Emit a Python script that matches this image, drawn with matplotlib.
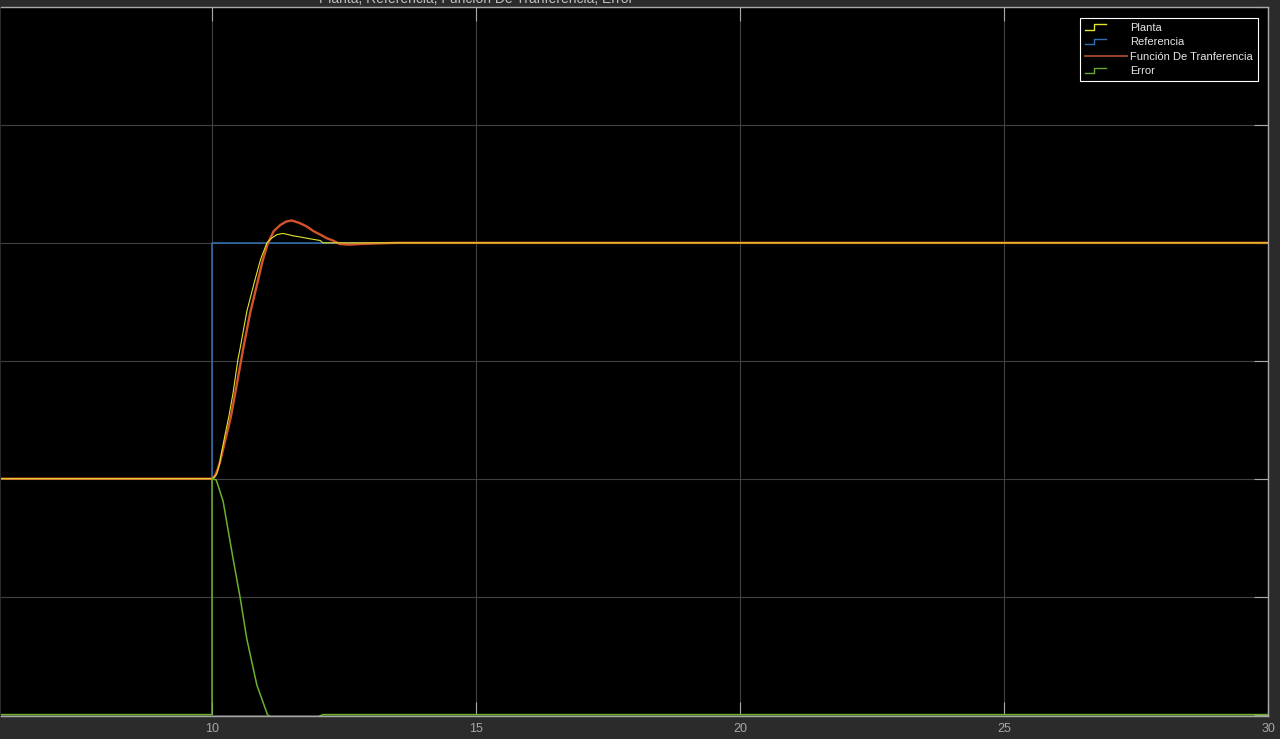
import matplotlib
matplotlib.use("Agg")
import matplotlib.pyplot as plt
from matplotlib.lines import Line2D
from matplotlib.legend_handler import HandlerBase

# ---------------- data ----------------
title_text = "Planta, Referencia, Función De Tranferencia, Error"
labels = ["Planta", "Referencia", "Función De Tranferencia", "Error"]
xticks = [10, 15, 20, 25, 30]
xtick_labels = ["10", "15", "20", "25", "30"]

ref_t = [6.0, 10.0, 10.0, 30.0]
ref_v = [2.0, 2.0, 4.0, 4.0]

planta_t = [6.0, 10.0, 10.04, 10.09, 10.14, 10.18, 10.25, 10.32, 10.40, 10.49,
            10.53, 10.66, 10.81, 10.92, 11.04, 11.13, 11.23, 11.34, 11.45,
            11.53, 11.67, 11.85, 12.05, 12.10, 30.0]
planta_v = [2.0, 2.0, 2.01, 2.04, 2.12, 2.22, 2.38, 2.53, 2.73, 3.01,
            3.10, 3.42, 3.68, 3.86, 4.00, 4.04, 4.07, 4.08, 4.07,
            4.06, 4.05, 4.035, 4.02, 4.00, 4.00]

ft_t = [6.0, 10.0, 10.05, 10.10, 10.15, 10.21, 10.28, 10.36, 10.47, 10.59,
        10.72, 10.87, 10.96, 11.06, 11.17, 11.29, 11.40, 11.51, 11.65, 11.79,
        11.92, 12.05, 12.17, 12.29, 12.42, 12.60, 12.80, 13.10, 13.50, 30.0]
ft_v = [2.0, 2.0, 2.02, 2.07, 2.14, 2.25, 2.38, 2.53, 2.80, 3.10,
        3.40, 3.68, 3.85, 4.00, 4.10, 4.15, 4.18, 4.19, 4.17, 4.14,
        4.10, 4.07, 4.04, 4.02, 3.99, 3.985, 3.99, 3.995, 4.00, 4.00]

err_t = [6.0, 10.0, 10.0, 10.08, 10.21, 10.40, 10.53, 10.66, 10.85, 11.05,
         11.30, 11.60, 12.00, 12.10, 30.0]
err_v = [0.0, 0.0, 2.0, 1.99, 1.81, 1.32, 1.00, 0.64, 0.25, 0.00,
         -0.08, -0.05, -0.02, 0.00, 0.00]

# ---------------- style ----------------
c_planta = "#e4e42a"
c_ref = "#2f6fb2"
c_ft = "#d4542a"
c_err = "#6db02e"
bg_fig = "#2b2b2b"
grid_c = "#404040"
edge_c = "#a8a8a8"

W, H = 1280, 739
fig = plt.figure(figsize=(W / 100, H / 100), dpi=100, facecolor=bg_fig)
ax_left, ax_right, ax_top, ax_bot = 0.8, 1268.0, 7.0, 716.0
ax = fig.add_axes([ax_left / W, (H - ax_bot) / H, (ax_right - ax_left) / W,
                   (ax_bot - ax_top) / H])
ax.set_facecolor("black")

ax.plot(ref_t, ref_v, color=c_ref, lw=1.1, zorder=2)
ax.plot(ft_t, ft_v, color=c_ft, lw=1.7, zorder=3)
ax.plot(planta_t, planta_v, color=c_planta, lw=0.8, zorder=4)
ax.plot(err_t, err_v, color=c_err, lw=1.1, zorder=5)

ax.set_xlim(6, 30)
ax.set_ylim(-0.012, 6)
ax.set_xticks(xticks)
ax.set_xticklabels(xtick_labels, fontsize=9, color="#a8a8a8",
                   family=["Liberation Sans", "DejaVu Sans"])
ax.set_yticks([0, 1, 2, 3, 4, 5, 6])
ax.set_yticklabels([])
ax.grid(True, color=grid_c, lw=0.8)
ax.tick_params(axis="both", direction="in", length=10, color=edge_c,
               top=True, right=True, left=False, pad=5)
for s in ax.spines.values():
    s.set_color(edge_c)
    s.set_linewidth(1.0)
ax.spines["left"].set_visible(False)


class StepHandler(HandlerBase):
    def create_artists(self, legend, orig_handle, xdescent, ydescent,
                       width, height, fontsize, trans):
        x0 = -xdescent
        y0 = -ydescent
        xs = [x0, x0 + 0.22 * width, x0 + 0.22 * width, x0 + 0.5 * width]
        ys = [y0 + 0.15 * height, y0 + 0.15 * height,
              y0 + 0.85 * height, y0 + 0.85 * height]
        ln = Line2D(xs, ys, color=orig_handle.get_color(), lw=1.0,
                    transform=trans)
        return [ln]


h_planta = Line2D([], [], color=c_planta)
h_ref = Line2D([], [], color=c_ref)
h_ft = Line2D([], [], color="#b4502c", lw=1.2)
h_err = Line2D([], [], color="#6aa82d")
step = StepHandler()

leg_x = (1258 - ax_left) / (ax_right - ax_left)
leg_y = (ax_bot - 18) / (ax_bot - ax_top)
leg = ax.legend([h_planta, h_ref, h_ft, h_err], labels,
                handler_map={h_planta: step, h_ref: step, h_err: step},
                loc="upper right", bbox_to_anchor=(leg_x, leg_y),
                borderaxespad=0, handlelength=3.8,
                handletextpad=0.3, labelspacing=0.4, borderpad=0.45,
                fancybox=False, framealpha=1, facecolor="black",
                edgecolor="white",
                prop={"family": ["Liberation Sans", "DejaVu Sans"], "size": 8})
leg.get_frame().set_linewidth(0.8)
for t in leg.get_texts():
    t.set_color("#e6e6e6")

fig.text(476 / W, 1 - 3 / H, title_text, ha="center", va="baseline",
         color="#c0c0c0", fontsize=10, family=["Liberation Sans", "DejaVu Sans"])

fig.savefig("out.png", dpi=100, facecolor=bg_fig)
